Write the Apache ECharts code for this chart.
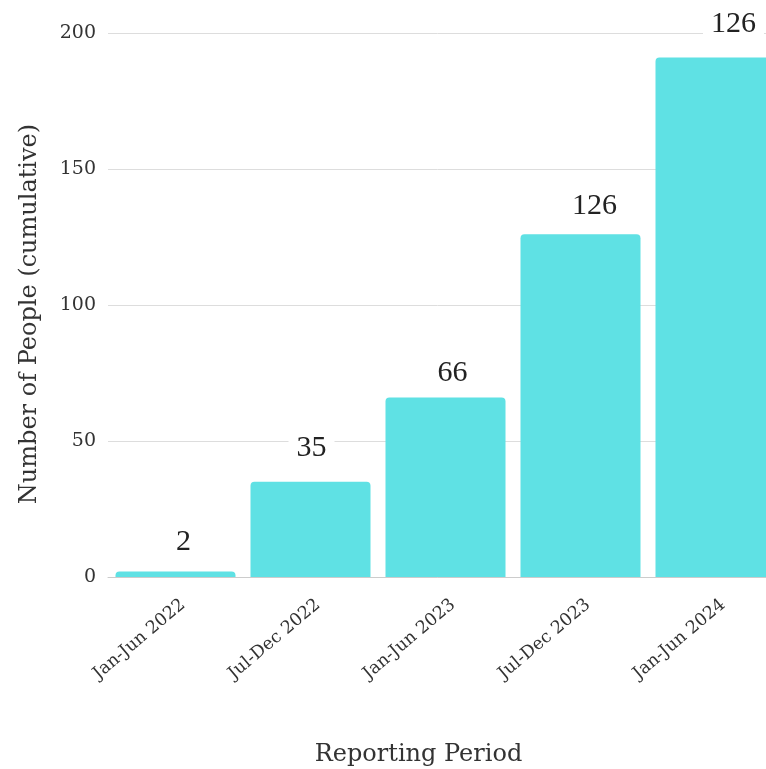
<!DOCTYPE html>
<html>
<head>
<meta charset="utf-8">
<script src="https://cdn.jsdelivr.net/npm/echarts@6/dist/echarts.min.js"></script>
<style>
  html, body { margin: 0; padding: 0; background: #ffffff; }
  #chart { width: 766px; height: 769px; }
</style>
</head>
<body>
<div id="chart"></div>
<script>
// Reporting periods along the x axis
const periods = ['Jan-Jun 2022', 'Jul-Dec 2022', 'Jan-Jun 2023', 'Jul-Dec 2023', 'Jan-Jun 2024'];
// Cumulative number of people per period (bar heights)
const cumulativePeople = [2, 35, 66, 126, 191];
// Text printed above each bar
const barLabels = ['2', '35', '66', '126', '126'];
// Y axis scale
const yMin = 0;
const yMax = 200;
const yStep = 50;

const serif = 'DejaVu Serif';
const labelSerif = 'Liberation Serif';

// small per-bar nudges of the value labels
const labelNudges = [[8, -5], [1, -10], [7, 0], [14, -4], [18, -9]];

const chart = echarts.init(document.getElementById('chart'), null, { renderer: 'canvas' });

const barData = cumulativePeople.map((v, i) => ({
  value: v,
  label: { offset: labelNudges[i] }
}));

chart.setOption({
  animation: false,
  backgroundColor: '#ffffff',
  grid: {
    left: 108,
    top: 33,
    width: 675,
    height: 544,
    containLabel: false,
    outerBoundsMode: 'none'
  },
  xAxis: {
    type: 'category',
    data: periods,
    name: 'Reporting Period',
    nameLocation: 'middle',
    nameGap: 166,
    nameTextStyle: {
      fontFamily: serif,
      fontSize: 24,
      color: '#333333',
      padding: [0, 54, 0, 0]
    },
    axisLine: { show: true, lineStyle: { color: '#cccccc', width: 1 } },
    axisTick: { show: false },
    axisLabel: {
      rotate: 40,
      interval: 0,
      margin: 32,
      fontFamily: serif,
      fontSize: 17.5,
      color: '#333333',
      padding: [0, -10, 0, 0]
    }
  },
  yAxis: {
    type: 'value',
    min: yMin,
    max: yMax,
    interval: yStep,
    name: 'Number of People (cumulative)',
    nameLocation: 'middle',
    nameGap: 66,
    nameTextStyle: {
      fontFamily: serif,
      fontSize: 24,
      color: '#333333',
      padding: [0, 18, 0, 0]
    },
    axisLine: { show: false },
    axisTick: { show: false },
    axisLabel: {
      margin: 12,
      fontFamily: serif,
      fontSize: 19,
      color: '#333333'
    },
    splitLine: { show: true, lineStyle: { color: '#dddddd', width: 1 } }
  },
  series: [{
    type: 'bar',
    data: barData,
    barWidth: 120,
    itemStyle: { color: '#5fe1e4', borderRadius: [4, 4, 0, 0] },
    label: {
      show: true,
      position: 'top',
      distance: 7,
      formatter: (p) => barLabels[p.dataIndex],
      fontFamily: labelSerif,
      fontSize: 30,
      color: '#222222',
      backgroundColor: '#ffffff',
      padding: [2, 8, 2, 8]
    }
  }]
});
</script>
</body>
</html>
